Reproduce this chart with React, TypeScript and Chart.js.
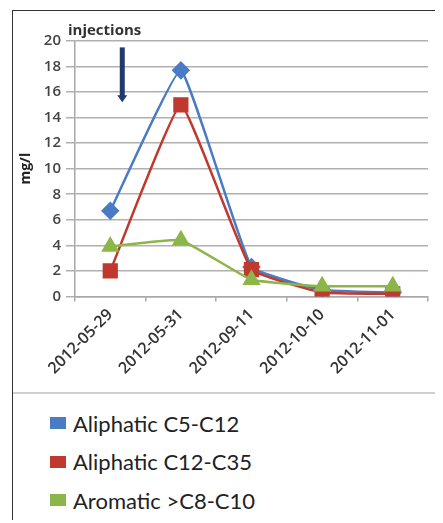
import React, { useEffect, useRef } from "react";
import { Chart, registerables } from "chart.js";

Chart.register(...registerables);

const categories = ["2012-05-29", "2012-05-31", "2012-09-11", "2012-10-10", "2012-11-01"];
const aliphaticC5C12 = [6.7, 17.7, 2.3, 0.5, 0.3];
const aliphaticC12C35 = [2.0, 15.0, 2.1, 0.3, 0.2];
const aromaticC8C10 = [3.9, 4.4, 1.3, 0.8, 0.8];
const seriesNames = ["Aliphatic C5-C12", "Aliphatic C12-C35", "Aromatic >C8-C10"];
const seriesColors = ["#4A7BC4", "#C0392F", "#8DB64A"];
const yTicks = [0, 2, 4, 6, 8, 10, 12, 14, 16, 18, 20];
const annotationText = "injections";
const annotationTextPos = { index: -0.08, value: 20.8 };
const arrowPos = { index: 0.17, top: 19.5, bottom: 15.2 };

const annotationPlugin = {
  id: "injections",
  afterDatasetsDraw(chart: any) {
    const { ctx, scales } = chart;
    const x = scales.x;
    const y = scales.y;
    ctx.save();
    ctx.fillStyle = "#333";
    ctx.font = "bold 15px 'Open Sans', sans-serif";
    ctx.textAlign = "center";
    ctx.textBaseline = "middle";
    ctx.fillText(annotationText, x.getPixelForValue(annotationTextPos.index), y.getPixelForValue(annotationTextPos.value));
    const ax = x.getPixelForValue(arrowPos.index);
    const at = y.getPixelForValue(arrowPos.top);
    const ab = y.getPixelForValue(arrowPos.bottom);
    ctx.fillStyle = "#213A6B";
    ctx.fillRect(ax - 2.5, at, 5, ab - at - 6);
    ctx.beginPath();
    ctx.moveTo(ax - 5, ab - 7);
    ctx.lineTo(ax + 5, ab - 7);
    ctx.lineTo(ax, ab);
    ctx.closePath();
    ctx.fill();
    ctx.restore();
  },
};

export default function App() {
  const ref = useRef<HTMLCanvasElement>(null);
  useEffect(() => {
    document.body.style.overflow = "hidden";
    const mk = (i: number, data: number[], style: string, radius: number, order: number) => ({
      label: seriesNames[i],
      data,
      borderColor: seriesColors[i],
      backgroundColor: seriesColors[i],
      pointBackgroundColor: seriesColors[i],
      pointBorderColor: seriesColors[i],
      pointStyle: style,
      pointRadius: radius,
      borderWidth: 2.5,
      tension: 0.1,
      order,
    });
    const chart = new Chart(ref.current!, {
      type: "line",
      data: {
        labels: categories,
        datasets: [
          mk(0, aliphaticC5C12, "rectRot", 7.5, 2),
          mk(1, aliphaticC12C35, "rect", 9, 1),
          mk(2, aromaticC8C10, "triangle", 8, 0),
        ],
      },
      options: {
        animation: false,
        responsive: false,
        layout: { padding: { left: 1, right: 16, top: 30, bottom: 10 } },
        plugins: { legend: { display: false }, tooltip: { enabled: false } },
        scales: {
          x: {
            offset: true,
            grid: { display: true, drawOnChartArea: false, drawTicks: true, tickLength: 5, color: "#a8a8a8", lineWidth: 1.5, offset: true },
            border: { display: true, color: "#a8a8a8", width: 1.5 },
            ticks: { maxRotation: 45, minRotation: 45, color: "#333", font: { family: "'Open Sans', sans-serif", size: 16, weight: "600" }, padding: 4 },
          },
          y: {
            min: 0,
            max: 20,
            afterBuildTicks: (axis: any) => {
              axis.ticks = yTicks.map((v) => ({ value: v }));
            },
            grid: { color: "#b0b0b0", lineWidth: 1.5, tickLength: 9 },
            border: { display: true, color: "#a8a8a8", width: 1.5 },
            ticks: { color: "#444", font: { family: "'Open Sans', sans-serif", size: 15, weight: "600" }, padding: 5 },
            title: { display: true, text: "mg/l", color: "#222", font: { family: "'Open Sans', sans-serif", size: 14, weight: "bold" }, padding: 4 },
          },
        },
      },
      plugins: [annotationPlugin],
    });
    return () => chart.destroy();
  }, []);
  return (
    <div style={{ marginLeft: 4, marginTop: 2, width: 431, borderLeft: "1.5px solid #333", borderTop: "1.5px solid #333", background: "#fff" }}>
      <canvas ref={ref} width={431} height={381} style={{ display: "block" }} />
      <div style={{ borderTop: "2px solid #d0d0d0", paddingTop: 10, paddingLeft: 37, fontFamily: "Lato, sans-serif", fontSize: 22, color: "#222" }}>
        {seriesNames.map((n, i) => (
          <div key={n} style={{ display: "flex", alignItems: "center", height: 38.5 }}>
            <span style={{ display: "inline-block", width: 16, height: 12, background: seriesColors[i], marginRight: 7 }} />
            {n}
          </div>
        ))}
      </div>
    </div>
  );
}
